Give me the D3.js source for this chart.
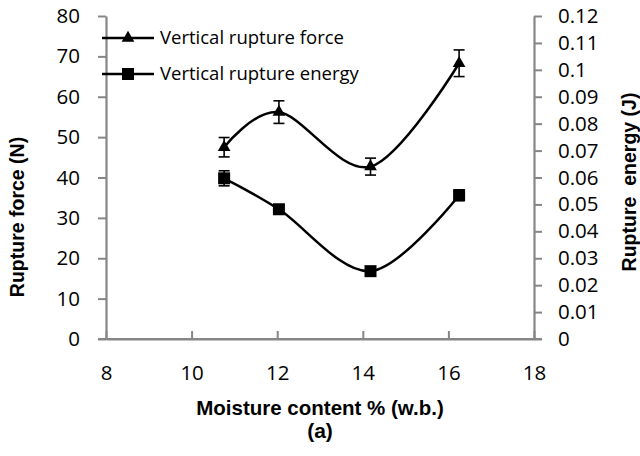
<!DOCTYPE html>
<html>
<head>
<meta charset="utf-8">
<script src="https://cdn.jsdelivr.net/npm/d3@7"></script>
<style>
  html, body { margin: 0; padding: 0; background: #fff; }
  svg { display: block; }
</style>
</head>
<body>
<svg id="chart" width="640" height="456"></svg>
<script>
// ---- data ----
const moisture = [10.76, 12.04, 14.18, 16.25];
const forceValues = [47.5, 56.2, 42.7, 68.3];
const forceErrors = [2.4, 2.8, 2.1, 3.3];
const energyValues = [0.0597, 0.0482, 0.0252, 0.0534];
const energyErrors = [0.0028, 0.0012, 0.0010, 0.0020];
const xTicks = [8, 10, 12, 14, 16, 18];
const leftTicks = [0, 10, 20, 30, 40, 50, 60, 70, 80];
const rightTicks = [0, 0.01, 0.02, 0.03, 0.04, 0.05, 0.06, 0.07, 0.08, 0.09, 0.1, 0.11, 0.12];
const seriesNames = ["Vertical rupture force", "Vertical rupture energy"];

(function () {
// ---- layout ----
const svg = d3.select("#chart");
const pL = 106, pR = 534, pT = 16, pB = 339;
const axisColor = "#868686";
const tickFont = "'Open Sans', sans-serif";

const x = d3.scaleLinear().domain([8, 18]).range([pL, pR]);
const yL = d3.scaleLinear().domain([0, 80]).range([pB, pT]);
const yR = d3.scaleLinear().domain([0, 0.12]).range([pB, pT]);

// axes
const gx = svg.append("g").attr("transform", `translate(0,${pB})`)
  .call(d3.axisBottom(x).tickValues(xTicks).tickFormat(d3.format("d")).tickSizeInner(-8).tickSizeOuter(0).tickPadding(34));
const gl = svg.append("g").attr("transform", `translate(${pL},0)`)
  .call(d3.axisLeft(yL).tickValues(leftTicks).tickFormat(d3.format("d")).tickSizeInner(8).tickSizeOuter(0).tickPadding(18));
const gr = svg.append("g").attr("transform", `translate(${pR},0)`)
  .call(d3.axisRight(yR).tickValues(rightTicks).tickFormat(d => d === 0 ? "0" : String(+d.toFixed(2))).tickSizeInner(8).tickSizeOuter(0).tickPadding(16));

[gx, gl, gr].forEach(g => {
  g.select(".domain").attr("stroke", axisColor).attr("stroke-width", 2.2);
  g.selectAll(".tick line").attr("stroke", axisColor).attr("stroke-width", 2);
  g.selectAll(".tick text").attr("fill", "#000").style("font-family", tickFont).style("font-size", "20.5px");
});
gx.append("line").attr("x1", pL - 8).attr("x2", pR + 8).attr("y1", 0).attr("y2", 0)
  .attr("stroke", axisColor).attr("stroke-width", 2.2);
gx.selectAll(".tick text").attr("dy", "0.35em");

// axis titles
const titleFont = "'Liberation Sans', Arial, sans-serif";
svg.append("text").attr("x", 320).attr("y", 415).attr("text-anchor", "middle")
  .style("font-family", titleFont).style("font-weight", "bold").style("font-size", "20.5px")
  .text("Moisture content % (w.b.)");
svg.append("text").attr("x", 320).attr("y", 438).attr("text-anchor", "middle")
  .style("font-family", titleFont).style("font-weight", "bold").style("font-size", "21px")
  .text("(a)");
svg.append("text").attr("transform", `translate(24,217) rotate(-90)`).attr("text-anchor", "middle")
  .style("font-family", titleFont).style("font-weight", "bold").style("font-size", "19.5px")
  .text("Rupture force (N)");
svg.append("text").attr("transform", `translate(636,182) rotate(-90)`).attr("text-anchor", "middle")
  .style("white-space", "pre")
  .style("font-family", titleFont).style("font-weight", "bold").style("font-size", "19.5px")
  .text("Rupture  energy (J)");

// series
const forceData = moisture.map((m, i) => ({x: m, y: forceValues[i], e: forceErrors[i]}));
const energyData = moisture.map((m, i) => ({x: m, y: energyValues[i], e: energyErrors[i]}));

const lineF = d3.line().x(d => x(d.x)).y(d => yL(d.y)).curve(d3.curveCatmullRom.alpha(0));
const lineE = d3.line().x(d => x(d.x)).y(d => yR(d.y)).curve(d3.curveCatmullRom.alpha(0));

svg.append("path").datum(forceData).attr("d", lineF).attr("fill", "none").attr("stroke", "#000").attr("stroke-width", 2.5);
svg.append("path").datum(energyData).attr("d", lineE).attr("fill", "none").attr("stroke", "#000").attr("stroke-width", 2.5);

const tri = d3.symbol().type(d3.symbolTriangle).size(70);
const sq = d3.symbol().type(d3.symbolSquare).size(144);

function drawSeries(data, y, sym) {
  svg.append("g").selectAll("path").data(data).join("path")
    .attr("d", sym).attr("transform", d => `translate(${x(d.x)},${y(d.y)})`).attr("fill", "#000");
  const eb = svg.append("g").attr("stroke", "#000").attr("stroke-width", 1.6);
  data.forEach(d => {
    const cx = x(d.x), y1 = y(d.y + d.e), y2 = y(d.y - d.e);
    eb.append("line").attr("x1", cx).attr("x2", cx).attr("y1", y1).attr("y2", y2);
    eb.append("line").attr("x1", cx - 5.5).attr("x2", cx + 5.5).attr("y1", y1).attr("y2", y1);
    eb.append("line").attr("x1", cx - 5.5).attr("x2", cx + 5.5).attr("y1", y2).attr("y2", y2);
  });
}
drawSeries(forceData, yL, tri);
drawSeries(energyData, yR, sq);

// legend
const legendRows = [{name: seriesNames[0], sym: tri, y: 38}, {name: seriesNames[1], sym: sq, y: 74}];
legendRows.forEach(r => {
  svg.append("line").attr("x1", 102).attr("x2", 154).attr("y1", r.y).attr("y2", r.y)
    .attr("stroke", "#000").attr("stroke-width", 2.5);
  svg.append("path").attr("d", r.sym).attr("transform", `translate(128,${r.y})`).attr("fill", "#000");
  svg.append("text").attr("x", 160).attr("y", r.y).attr("dy", "0.35em")
    .style("font-family", tickFont).style("font-size", "18.5px").text(r.name);
});
})();
</script>
</body>
</html>
